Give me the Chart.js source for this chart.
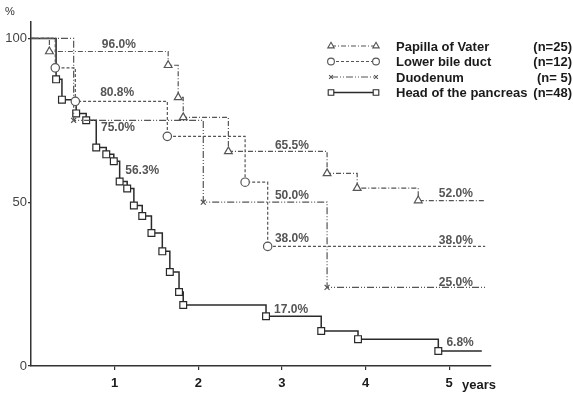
<!DOCTYPE html>
<html>
<head>
<meta charset="utf-8">
<script src="https://cdn.jsdelivr.net/npm/chart.js@4.4.0/dist/chart.umd.min.js"></script>
<style>
  html, body { margin: 0; padding: 0; background: #fff; }
</style>
</head>
<body>
<canvas id="km" width="573" height="393"></canvas>
<script>
// survival data (years, % surviving)
var papillaT = [0, 0.22, 1.64, 1.76, 1.82, 2.36, 3.54, 3.90, 4.63, 5.43];
var papillaS = [100, 96.0, 91.8, 82.0, 75.9, 65.5, 58.8, 54.3, 50.5, 50.5];

var bileT = [0, 0.29, 0.53, 1.63, 2.56, 2.83, 5.43];
var bileS = [100, 91.0, 80.8, 70.1, 56.1, 36.5, 36.5];

var duoT = [0, 0.51, 2.06, 3.54, 5.43];
var duoS = [100, 75.0, 50.0, 24.0, 24.0];

var panT = [0, 0.30, 0.37, 0.54, 0.66, 0.78, 0.90, 0.99, 1.06, 1.15, 1.23, 1.33, 1.44, 1.57, 1.66, 1.77, 1.82, 2.81, 3.47, 3.91, 4.87, 5.39];
var panS = [100, 87.5, 81.3, 77.1, 75.0, 66.7, 64.6, 62.5, 56.3, 54.2, 49.0, 45.8, 40.6, 35.0, 28.7, 22.6, 18.6, 15.2, 10.7, 8.2, 4.6, 4.6];

var xTicks = [1, 2, 3, 4, 5];
var yTicks = [0, 50, 100];

var seriesNames = ['Papilla of Vater', 'Lower bile duct', 'Duodenum', 'Head of the pancreas'];
var seriesN = ['(n=25)', '(n=12)', '(n= 5)', '(n=48)'];

// percentage labels written on the plot
var pctText = ['96.0%', '80.8%', '75.0%', '56.3%', '65.5%', '50.0%', '38.0%', '52.0%', '38.0%', '25.0%', '17.0%', '6.8%'];
var pctX = [1.05, 1.03, 1.04, 1.33, 3.12, 3.12, 3.12, 5.08, 5.08, 5.08, 3.11, 5.13];
var pctY = [98.2, 83.5, 72.6, 59.5, 67.2, 52.1, 39.0, 52.7, 38.4, 25.3, 17.1, 7.0];

function pts(t, s) {
  return t.map(function (v, i) { return { x: v, y: s[i] }; });
}

// no marker on the first and last point of a curve
function markR(r) {
  return function (ctx) {
    var n = ctx.dataset.data.length;
    return (ctx.dataIndex == 0 || ctx.dataIndex == n - 1) ? 0 : r;
  };
}

var styles = [
  { pt: 'triangle', r: 4.5, dash: [5, 2, 1, 2], col: '#555', w: 1.2 },
  { pt: 'circle', r: 4.2, dash: [3, 2], col: '#555', w: 1.2 },
  { pt: 'crossRot', r: 3.5, dash: [7, 2, 1, 2, 1, 2], col: '#555', w: 1.2 },
  { pt: 'rect', r: 4.8, dash: [], col: '#2a2a2a', w: 1.5 }
];

function makeSet(i, t, s) {
  var st = styles[i];
  return {
    label: seriesNames[i],
    data: pts(t, s),
    stepped: 'before',
    borderColor: st.col,
    borderWidth: st.w,
    borderDash: st.dash,
    pointStyle: st.pt,
    pointRadius: markR(st.r),
    pointBorderColor: st.col,
    pointBorderWidth: 1.2,
    pointBackgroundColor: '#fff',
    fill: false
  };
}

function drawMark(ctx, type, x, y, r) {
  ctx.beginPath();
  if (type == 'triangle') {
    ctx.moveTo(x, y - r);
    ctx.lineTo(x + r * 0.87, y + r * 0.5);
    ctx.lineTo(x - r * 0.87, y + r * 0.5);
    ctx.closePath();
  } else if (type == 'circle') {
    ctx.arc(x, y, r, 0, Math.PI * 2);
  } else if (type == 'crossRot') {
    var d = r * 0.7;
    ctx.moveTo(x - d, y - d); ctx.lineTo(x + d, y + d);
    ctx.moveTo(x + d, y - d); ctx.lineTo(x - d, y + d);
  } else {
    ctx.rect(x - r * 0.7, y - r * 0.7, r * 1.4, r * 1.4);
  }
  if (type != 'crossRot') { ctx.fillStyle = '#fff'; ctx.fill(); }
  ctx.stroke();
}

var extras = {
  id: 'extras',
  afterDraw: function (chart) {
    var ctx = chart.ctx;
    var sx = chart.scales.x, sy = chart.scales.y;
    ctx.save();

    // % labels on curves
    ctx.fillStyle = '#555';
    ctx.font = 'bold 12px "Liberation Sans", Arial, sans-serif';
    ctx.textAlign = 'center';
    ctx.textBaseline = 'middle';
    for (var i = 0; i < pctText.length; i++) {
      ctx.fillText(pctText[i], sx.getPixelForValue(pctX[i]), sy.getPixelForValue(pctY[i]));
    }

    // axis units
    ctx.fillStyle = '#333';
    ctx.font = '11px "Liberation Sans", Arial, sans-serif';
    ctx.fillText('%', 10, 12);
    ctx.fillStyle = '#1a1a1a';
    ctx.font = 'bold 13px "Liberation Sans", Arial, sans-serif';
    ctx.textAlign = 'left';
    ctx.fillText('years', 462, 385);

    // legend
    for (var k = 0; k < 4; k++) {
      var st = styles[k];
      var y = 46 + k * 15.5;
      ctx.strokeStyle = st.col;
      ctx.lineWidth = st.w;
      ctx.setLineDash(st.dash);
      ctx.beginPath();
      ctx.moveTo(331, y);
      ctx.lineTo(376, y);
      ctx.stroke();
      ctx.setLineDash([]);
      ctx.lineWidth = 1.1;
      drawMark(ctx, st.pt, 331, y, st.r - 0.8);
      drawMark(ctx, st.pt, 376, y, st.r - 0.8);

      ctx.fillStyle = '#1a1a1a';
      ctx.font = 'bold 13px "Liberation Sans", Arial, sans-serif';
      ctx.textAlign = 'left';
      ctx.fillText(seriesNames[k], 396, y + 1);
      ctx.textAlign = 'right';
      ctx.fillText(seriesN[k], 572, y + 1);
    }
    ctx.restore();
  }
};

new Chart(document.getElementById('km'), {
  type: 'line',
  data: {
    datasets: [
      makeSet(0, papillaT, papillaS),
      makeSet(1, bileT, bileS),
      makeSet(2, duoT, duoS),
      makeSet(3, panT, panS)
    ]
  },
  options: {
    responsive: false,
    animation: false,
    layout: { padding: { top: 22, right: 82, left: 0, bottom: 0 } },
    plugins: { legend: { display: false }, tooltip: { enabled: false } },
    scales: {
      x: {
        type: 'linear',
        min: 0,
        max: 5.5,
        afterBuildTicks: function (s) { s.ticks = xTicks.map(function (v) { return { value: v }; }); },
        afterFit: function (s) { s.height = 27; },
        grid: { drawOnChartArea: false, tickLength: 4, color: '#333', lineWidth: 1.2 },
        border: { color: '#333', width: 1.5 },
        ticks: { color: '#1a1a1a', padding: 6, maxRotation: 0, autoSkip: false,
          font: { family: 'Liberation Sans', size: 13, weight: 'bold' } }
      },
      y: {
        min: 0,
        max: 105,
        afterBuildTicks: function (s) { s.ticks = yTicks.map(function (v) { return { value: v }; }); },
        afterFit: function (s) { s.width = 31; },
        grid: { drawOnChartArea: false, tickLength: 3, color: '#333', lineWidth: 1.2 },
        border: { color: '#333', width: 1.5 },
        ticks: { color: '#444', padding: 1, font: { family: 'Liberation Sans', size: 13 } }
      }
    }
  },
  plugins: [extras]
});
</script>
</body>
</html>
